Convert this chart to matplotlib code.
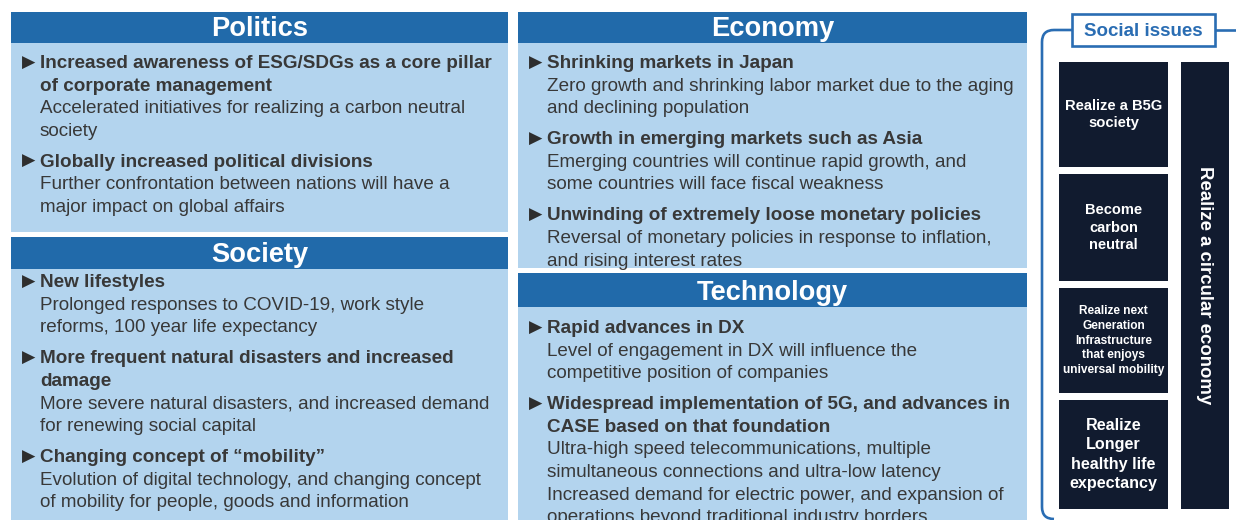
import matplotlib
matplotlib.use('Agg')
import matplotlib.pyplot as plt
from matplotlib.patches import Rectangle, PathPatch
from matplotlib.path import Path

plt.rcParams['font.family'] = ['Liberation Sans', 'DejaVu Sans']

# ---------------------------------------------------------------------------------------------------------------------
# Texts of the four panels: (heading lines, body lines) per bullet

panel_titles = ['Politics', 'Society', 'Economy', 'Technology']

politics_items = [
    (['Increased awareness of ESG/SDGs as a core pillar', 'of corporate management'],
     ['Accelerated initiatives for realizing a carbon neutral', 'society']),
    (['Globally increased political divisions'],
     ['Further confrontation between nations will have a', 'major impact on global affairs']),
]

society_items = [
    (['New lifestyles'],
     ['Prolonged responses to COVID-19, work style', 'reforms, 100 year life expectancy']),
    (['More frequent natural disasters and increased', 'damage'],
     ['More severe natural disasters, and increased demand', 'for renewing social capital']),
    (['Changing concept of \u201cmobility\u201d'],
     ['Evolution of digital technology, and changing concept',
      'of mobility for people, goods and information']),
]

economy_items = [
    (['Shrinking markets in Japan'],
     ['Zero growth and shrinking labor market due to the aging', 'and declining population']),
    (['Growth in emerging markets such as Asia'],
     ['Emerging countries will continue rapid growth, and', 'some countries will face fiscal weakness']),
    (['Unwinding of extremely loose monetary policies'],
     ['Reversal of monetary policies in response to inflation,', 'and rising interest rates']),
]

technology_items = [
    (['Rapid advances in DX'],
     ['Level of engagement in DX will influence the', 'competitive position of companies']),
    (['Widespread implementation of 5G, and advances in', 'CASE based on that foundation'],
     ['Ultra-high speed telecommunications, multiple',
      'simultaneous connections and ultra-low latency',
      'Increased demand for electric power, and expansion of',
      'operations beyond traditional industry borders']),
]

social_title = 'Social issues'
issue_labels = ['Realize a B5G\nsociety',
                'Become\ncarbon\nneutral',
                'Realize next\nGeneration\nInfrastructure\nthat enjoys\nuniversal mobility',
                'Realize\nLonger\nhealthy life\nexpectancy']
issue_sizes = [10.6, 10.5, 8.6, 11.6]
issue_spacing = [1.32, 1.32, 1.3, 1.36]
circular_label = 'Realize a circular economy'

# colours
header_blue = '#216aaa'
body_blue = '#b3d4ee'
text_grey = '#383838'
navy = '#111b2f'
line_blue = '#2a6db3'

# ---------------------------------------------------------------------------------------------------------------------
# Canvas in pixel units

fig = plt.figure(figsize=(12.36, 5.2), dpi=100)
ax = fig.add_axes([0, 0, 1, 1])
ax.set_xlim(0, 1236)
ax.set_ylim(520, 0)
ax.axis('off')

line_step = 22.6
item_gap = 8.4


def draw_panel(title, x0, x1, top, head_bot, bottom, first_base, items):
    ax.add_patch(Rectangle((x0, top), x1 - x0, head_bot - top, color=header_blue, lw=0))
    ax.add_patch(Rectangle((x0, head_bot), x1 - x0, bottom - head_bot, color=body_blue, lw=0))
    ax.text((x0 + x1) / 2, head_bot - 6.5, title, color='white', fontsize=19.6,
            fontweight='bold', ha='center', va='baseline')
    y = first_base
    for heads, body in items:
        ax.text(x0 + 11, y - 0.5, '\u25b6', family='DejaVu Sans', fontsize=12.5,
                color='#2e2e2e', ha='left', va='baseline')
        for ln in heads:
            ax.text(x0 + 29, y, ln, fontsize=13.55, fontweight='bold', color=text_grey,
                    ha='left', va='baseline')
            y += line_step
        for ln in body:
            ax.text(x0 + 29, y, ln, fontsize=13.55, color=text_grey,
                    ha='left', va='baseline')
            y += line_step
        y += item_gap


draw_panel(panel_titles[0], 11, 508, 12, 43, 232, 68, politics_items)
draw_panel(panel_titles[1], 11, 508, 237, 269, 530, 287, society_items)
draw_panel(panel_titles[2], 518, 1027, 12, 43, 268, 68, economy_items)
draw_panel(panel_titles[3], 518, 1027, 273, 307, 530, 333, technology_items)

# ---------------------------------------------------------------------------------------------------------------------
# Social issues bracket

verts = [(1072, 30), (1054, 30), (1042, 30), (1042, 42), (1042, 507), (1042, 519), (1054, 519)]
codes = [Path.MOVETO, Path.LINETO, Path.CURVE3, Path.CURVE3, Path.LINETO, Path.CURVE3, Path.CURVE3]
ax.add_patch(PathPatch(Path(verts, codes), fill=False, edgecolor=line_blue, lw=1.9))
ax.plot([1215, 1236], [30, 30], color=line_blue, lw=1.9, solid_capstyle='butt')

ax.add_patch(Rectangle((1072, 14), 143, 32, facecolor='white', edgecolor=line_blue, lw=1.9))
ax.text(1143.5, 30, social_title, color=line_blue, fontsize=13.5, fontweight='bold',
        ha='center', va='center_baseline')

box_tops = [62, 174, 288, 400]
box_bots = [167, 281, 393, 509]
for lab, fs, ls, t, b in zip(issue_labels, issue_sizes, issue_spacing, box_tops, box_bots):
    ax.add_patch(Rectangle((1059, t), 109, b - t, color=navy, lw=0))
    ax.text(1113.5, (t + b) / 2, lab, color='white', fontsize=fs, fontweight='bold',
            ha='center', va='center', multialignment='center', linespacing=ls)

ax.add_patch(Rectangle((1181, 62), 48, 447, color=navy, lw=0))
ax.text(1205, 285, circular_label, color='white', fontsize=13.4, fontweight='bold',
        rotation=-90, ha='center', va='center')

fig.savefig('out.png', dpi=100, facecolor='white')
